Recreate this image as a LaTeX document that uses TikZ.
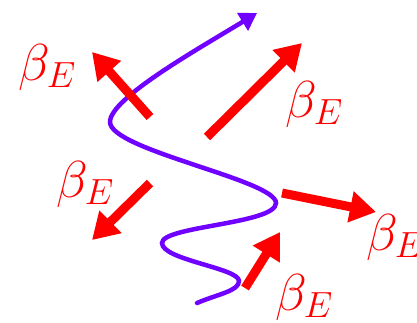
\RequirePackage{fix-cm}
\documentclass[tikz,border=0pt]{standalone}
\usetikzlibrary{arrows.meta}
\definecolor{wavepurple}{RGB}{112,0,255}
\definecolor{arrred}{RGB}{255,0,0}
\begin{document}
\begin{tikzpicture}[x=1pt,y=-1pt,
  betalabel/.style={inner sep=0pt,anchor=base west,text=arrred,font=\fontsize{52}{60}\selectfont},
  redarrow/.style={draw=arrred,line width=9pt,-{Triangle[length=26pt,width=30pt]}},
  wave/.style={draw=wavepurple,line width=4.5pt,line cap=round,-{Triangle[length=17pt,width=20pt]}}]
\useasboundingbox (0,0) rectangle (417,322);
\clip (0,0) rectangle (417,322);
\fill[white] (0,0) rectangle (417,322);
% coordinates
\coordinate (w0) at (197,303);
\coordinate (w1) at (239,281);
\coordinate (w2) at (162,243);
\coordinate (w3) at (276,203);
\coordinate (w4) at (110,122);
\coordinate (w5) at (257,13);
\draw[wave] (w0) .. controls (218,294) and (239,291) .. (w1)
  .. controls (239,268) and (162,260) .. (w2)
  .. controls (162,226) and (276,224) .. (w3)
  .. controls (276,180) and (110,150) .. (w4)
  .. controls (110,98) and (200,48) .. (w5);
% red arrows
\coordinate (a1s) at (150,117); \coordinate (a1e) at (92,52);
\coordinate (a2s) at (207,137); \coordinate (a2e) at (302,43);
\coordinate (a3s) at (150,183); \coordinate (a3e) at (92,240);
\coordinate (a4s) at (282,193); \coordinate (a4e) at (376,212);
\coordinate (a5s) at (245,288); \coordinate (a5e) at (280,232);
\draw[redarrow] (a1s) -- (a1e);
\draw[redarrow] (a2s) -- (a2e);
\draw[redarrow] (a3s) -- (a3e);
\draw[redarrow] (a4s) -- (a4e);
\draw[redarrow] (a5s) -- (a5e);
% labels
\node[betalabel] (l1) at (18,80) {$\beta_E$};
\node[betalabel] (l2) at (285,117) {$\beta_E$};
\node[betalabel] (l3) at (56,197) {$\beta_E$};
\node[betalabel] (l4) at (366,250) {$\beta_E$};
\node[betalabel] (l5) at (275,310) {$\beta_E$};
\end{tikzpicture}
\end{document}
